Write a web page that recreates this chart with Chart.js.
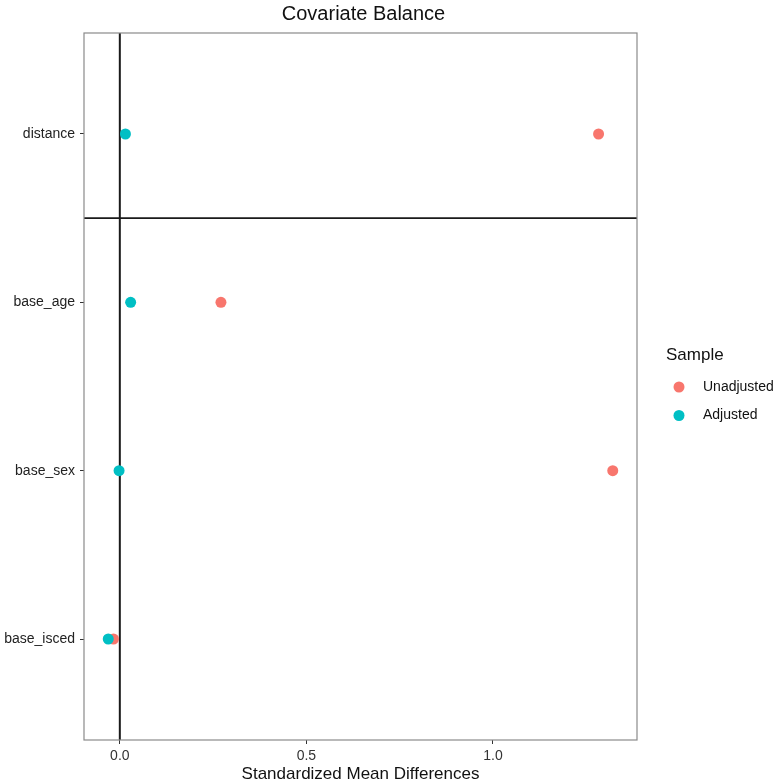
<!DOCTYPE html>
<html>
<head>
<meta charset="utf-8">
<script src="https://cdn.jsdelivr.net/npm/chart.js@4.4.1/dist/chart.umd.min.js"></script>
<style>
  html, body { margin: 0; padding: 0; background: #fff; overflow: hidden; }
  canvas { display: block; }
</style>
</head>
<body>
<canvas id="loveplot" width="777" height="783"></canvas>
<script>
// covariates, top to bottom
const covariates = ['distance', 'base_age', 'base_sex', 'base_isced'];
const unadjusted = [1.283, 0.271, 1.321, -0.017];
const adjusted = [0.015, 0.029, -0.002, -0.031];
const xTicks = [0, 0.5, 1];

const RED = '#F8766D';
const TEAL = '#00BFC4';

// y position: distance at top
const yPos = covariates.map((c, i) => covariates.length - i);
const toPoints = vals => vals.map((v, i) => ({ x: v, y: yPos[i] }));

// frame, zero line, separator, title and legend
const decorations = {
    id: 'decorations',
    beforeDatasetsDraw(chart) {
        const { ctx, chartArea: a, scales: { x, y } } = chart;
        ctx.save();
        ctx.strokeStyle = '#1a1a1a';
        ctx.lineWidth = 2;
        // zero reference line
        const x0 = x.getPixelForValue(0);
        ctx.beginPath();
        ctx.moveTo(x0, a.top);
        ctx.lineTo(x0, a.bottom);
        ctx.stroke();
        // separator below distance
        ctx.lineWidth = 1.6;
        const ys = y.getPixelForValue(covariates.length - 0.5);
        ctx.beginPath();
        ctx.moveTo(a.left, ys);
        ctx.lineTo(a.right, ys);
        ctx.stroke();
        ctx.restore();
    },
    afterDraw(chart) {
        const { ctx, chartArea: a } = chart;
        ctx.save();
        ctx.strokeStyle = '#8a8a8a';
        ctx.lineWidth = 1.2;
        ctx.strokeRect(a.left, a.top, a.right - a.left, a.bottom - a.top);

        ctx.fillStyle = '#111';
        ctx.font = '20px "Liberation Sans", Arial, sans-serif';
        ctx.textAlign = 'center';
        ctx.textBaseline = 'middle';
        ctx.fillText('Covariate Balance', (a.left + a.right) / 2 + 3, 14);

        // legend
        ctx.textAlign = 'left';
        ctx.font = '17px "Liberation Sans", Arial, sans-serif';
        ctx.fillText('Sample', 666, 355);
        ctx.font = '14px "Liberation Sans", Arial, sans-serif';
        chart.data.datasets.forEach((ds, i) => {
            const cy = 387 + i * 28.5;
            ctx.fillStyle = ds.backgroundColor;
            ctx.beginPath();
            ctx.arc(679, cy, 5.5, 0, Math.PI * 2);
            ctx.fill();
            ctx.fillStyle = '#111';
            ctx.fillText(ds.label, 703, cy);
        });
        ctx.restore();
    }
};

const ctx = document.getElementById('loveplot').getContext('2d');
new Chart(ctx, {
    type: 'scatter',
    data: {
        datasets: [
            { label: 'Unadjusted', data: toPoints(unadjusted), backgroundColor: RED, order: 1 },
            { label: 'Adjusted', data: toPoints(adjusted), backgroundColor: TEAL, order: 0 }
        ]
    },
    options: {
        responsive: false,
        animation: false,
        layout: { padding: { left: 0, right: 140, top: 33, bottom: 0 } },
        elements: { point: { radius: 5.5, borderWidth: 0, hoverRadius: 5.5 } },
        plugins: {
            legend: { display: false },
            title: { display: false },
            tooltip: { enabled: false }
        },
        scales: {
            x: {
                type: 'linear',
                min: -0.096,
                max: 1.386,
                afterBuildTicks: axis => { axis.ticks = xTicks.map(v => ({ value: v })); },
                afterFit: axis => { axis.height = 43; },
                border: { display: false },
                grid: { drawOnChartArea: false, drawTicks: true, tickLength: 4, color: '#333' },
                ticks: {
                    padding: 4,
                    color: '#333',
                    font: { family: '"Liberation Sans", Arial, sans-serif', size: 14 },
                    callback: v => v.toFixed(1)
                },
                title: {
                    display: true,
                    text: 'Standardized Mean Differences',
                    color: '#111',
                    padding: { top: 0, bottom: 0 },
                    font: { family: '"Liberation Sans", Arial, sans-serif', size: 17, lineHeight: 1 }
                }
            },
            y: {
                type: 'linear',
                min: 0.4,
                max: covariates.length + 0.6,
                afterBuildTicks: axis => { axis.ticks = yPos.map(v => ({ value: v })); },
                afterFit: axis => { axis.width = 84; },
                border: { display: false },
                grid: { drawOnChartArea: false, drawTicks: true, tickLength: 4, color: '#333' },
                ticks: {
                    padding: 5,
                    color: '#222',
                    font: { family: '"Liberation Sans", Arial, sans-serif', size: 14 },
                    callback: v => covariates[covariates.length - v]
                }
            }
        }
    },
    plugins: [decorations]
});
</script>
</body>
</html>
